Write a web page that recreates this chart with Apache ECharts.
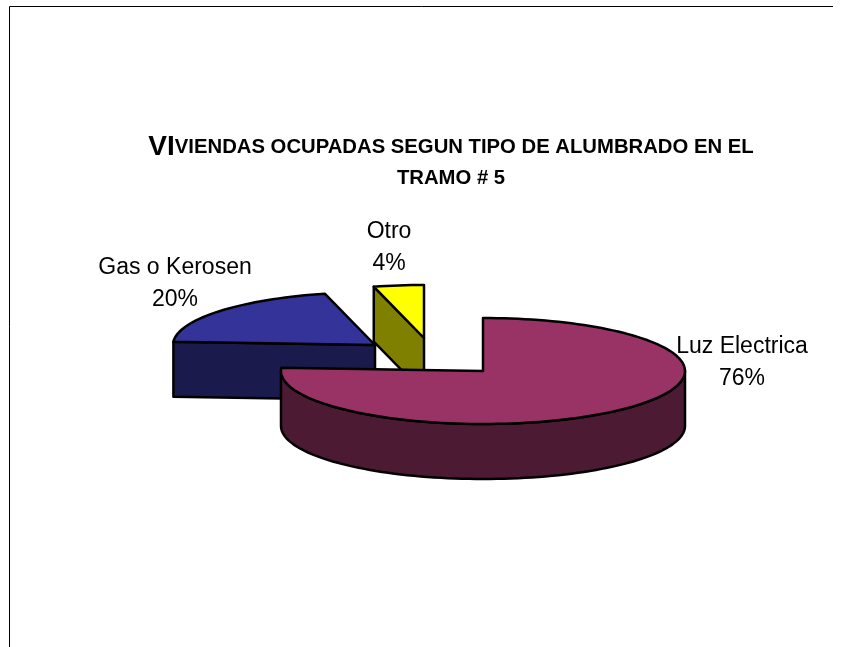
<!DOCTYPE html>
<html>
<head>
<meta charset="utf-8">
<title>Viviendas ocupadas</title>
<script src="https://cdn.jsdelivr.net/npm/echarts@6/dist/echarts.min.js"></script>
<style>
  html, body { margin: 0; padding: 0; background: #fff; }
  #chart { width: 843px; height: 647px; }
</style>
</head>
<body>
<div id="chart"></div>
<script>
const categories = ['Luz Electrica', 'Gas o Kerosen', 'Otro'];
const shares = [76, 20, 4];
const titleLead = 'VI';
const titleRest = 'VIENDAS OCUPADAS SEGUN TIPO DE ALUMBRADO EN EL';
const titleLine2 = 'TRAMO # 5';

const topColors = ['#993366', '#333399', '#ffff00'];
const sideColors = ['#4d1a33', '#1a1a4d', '#808000'];
// slice apex on screen (the pie is exploded, so each one has its own)
const apexes = [[483, 371], [375, 345], [424, 338]];
const labelPos = [[742, 363], [175, 284], [389, 248]];
const zs = [3, 2, 1]; // Otro behind Gas behind Luz

const RX = 202, RY = 53, DEPTH = 55;
const total = shares.reduce((a, b) => a + b, 0);

// 0 deg = up, clockwise, squashed to an ellipse
function rim(apex, deg, down) {
  const a = deg * Math.PI / 180;
  return [apex[0] + RX * Math.sin(a), apex[1] - RY * Math.cos(a) + (down || 0)];
}

function arcPoints(apex, from, to, down) {
  const pts = [];
  const n = Math.max(2, Math.ceil((to - from) / 2));
  for (let i = 0; i <= n; i++) {
    pts.push(rim(apex, from + (to - from) * i / n, down));
  }
  return pts;
}

const stroke = { stroke: '#000', lineWidth: 2.5, lineJoin: 'round' };

function renderSlice(params, api) {
  const i = api.value(0);
  const share = api.value(1);
  const start = shares.slice(0, i).reduce((a, b) => a + b, 0) / total * 360;
  const end = start + share / total * 360;
  const apex = apexes[i];
  const children = [];
  const z2 = zs[i];

  function addPoly(points, fill) {
    children.push({
      type: 'polygon',
      z2: z2,
      shape: { points: points },
      style: Object.assign({ fill: fill }, stroke)
    });
  }

  // cut faces turned towards the viewer
  [[start, Math.sin(start * Math.PI / 180) < -1e-6], [end, Math.sin(end * Math.PI / 180) > 1e-6]].forEach(function (f) {
    if (!f[1]) return;
    const p = rim(apex, f[0]);
    addPoly([
      apex, p,
      [p[0], p[1] + DEPTH],
      [apex[0], apex[1] + DEPTH]
    ], sideColors[i]);
  });

  // outer wall, only the front half of the ellipse shows
  const wallFrom = Math.max(start, 90), wallTo = Math.min(end, 270);
  if (wallTo > wallFrom) {
    const upper = arcPoints(apex, wallFrom, wallTo, 0);
    const lower = arcPoints(apex, wallFrom, wallTo, DEPTH).reverse();
    addPoly(upper.concat(lower), sideColors[i]);
  }

  // top face
  addPoly([apex].concat(arcPoints(apex, start, end, 0)), topColors[i]);

  // label
  children.push({
    type: 'text',
    z2: 10,
    style: {
      x: labelPos[i][0],
      y: labelPos[i][1],
      text: categories[i] + '\n' + share + '%',
      fill: '#000',
      font: '23px "Liberation Sans"',
      lineHeight: 32,
      align: 'center',
      verticalAlign: 'middle'
    }
  });

  return { type: 'group', children: children };
}

const chart = echarts.init(document.getElementById('chart'), null, { renderer: 'canvas' });
chart.setOption({
  animation: false,
  backgroundColor: '#fff',
  title: {
    left: 446,
    top: 127,
    textAlign: 'center',
    text: '{a|' + titleLead + '}{b|' + titleRest + '}\n{b|' + titleLine2 + '}',
    textStyle: {
      rich: {
        a: { fontFamily: 'Liberation Sans', fontWeight: 'bold', fontSize: 28, lineHeight: 31, color: '#000' },
        b: { fontFamily: 'Liberation Sans', fontWeight: 'bold', fontSize: 20.3, lineHeight: 31, color: '#000' }
      }
    }
  },
  graphic: [{
    type: 'polyline',
    silent: true,
    shape: { points: [[9.5, 647], [9.5, 6.5], [833, 6.5]] },
    style: { stroke: '#000', lineWidth: 1, fill: null }
  }],
  series: [{
    type: 'custom',
    coordinateSystem: 'none',
    renderItem: renderSlice,
    data: categories.map((c, i) => [i, shares[i]])
  }]
});
</script>
</body>
</html>
